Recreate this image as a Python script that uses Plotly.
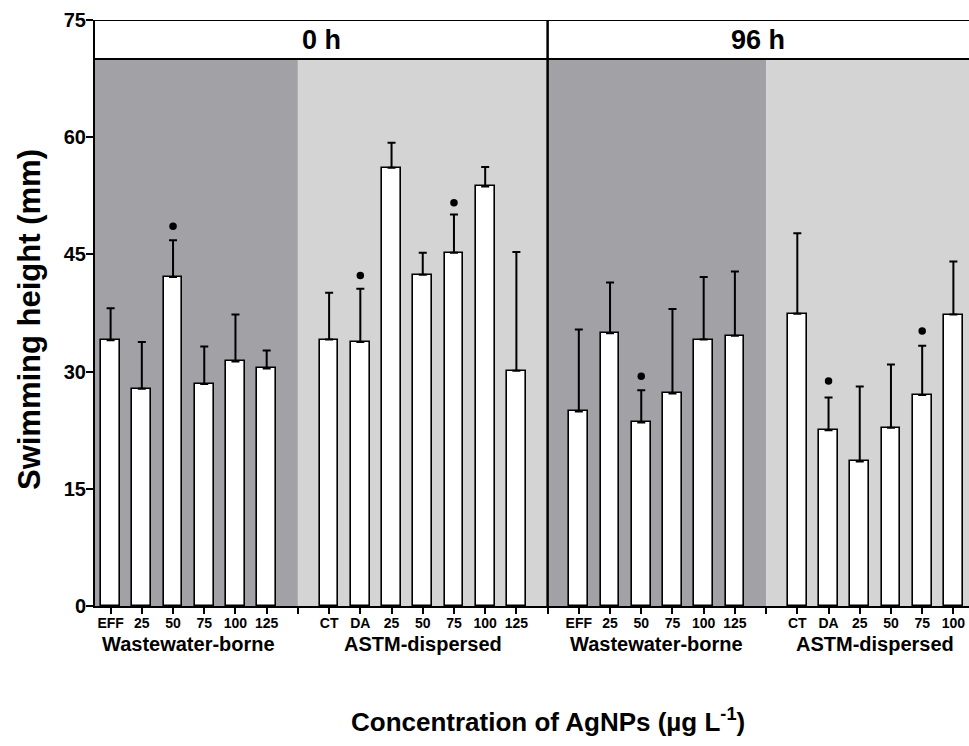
import plotly.graph_objects as go

# ---------------- data ----------------
time_points = ["0 h", "96 h"]
treatments = ["Wastewater-borne", "ASTM-dispersed"]

ww_labels = ["EFF", "25", "50", "75", "100", "125"]
astm_labels_0h = ["CT", "DA", "25", "50", "75", "100", "125"]
astm_labels_96h = ["CT", "DA", "25", "50", "75", "100"]   # 125 is cut off in the source image

ww_0h_mean = [34.0, 27.8, 42.1, 28.4, 31.3, 30.4]
ww_0h_err = [4.1, 6.0, 4.7, 4.8, 6.0, 2.3]
ww_0h_dot = [None, None, 48.6, None, None, None]

astm_0h_mean = [34.1, 33.8, 56.1, 42.4, 45.2, 53.7, 30.1]
astm_0h_err = [6.0, 6.8, 3.2, 2.8, 4.9, 2.5, 15.2]
astm_0h_dot = [None, 42.3, None, None, 51.6, None, None]

ww_96h_mean = [24.9, 34.9, 23.5, 27.2, 34.1, 34.6]
ww_96h_err = [10.5, 6.5, 4.1, 10.8, 8.0, 8.2]
ww_96h_dot = [None, None, 29.4, None, None, None]

astm_96h_mean = [37.4, 22.5, 18.5, 22.8, 27.0, 37.3]
astm_96h_err = [10.3, 4.2, 9.6, 8.1, 6.3, 6.8]
astm_96h_dot = [None, 28.8, None, None, 35.2, None]

y_ticks = [0, 15, 30, 45, 60, 75]

groups = [
    (time_points[0], treatments[0], ww_labels, ww_0h_mean, ww_0h_err, ww_0h_dot),
    (time_points[0], treatments[1], astm_labels_0h, astm_0h_mean, astm_0h_err, astm_0h_dot),
    (time_points[1], treatments[0], ww_labels, ww_96h_mean, ww_96h_err, ww_96h_dot),
    (time_points[1], treatments[1], astm_labels_96h, astm_96h_mean, astm_96h_err, astm_96h_dot),
]

# ---------------- style ----------------
FONT = "Liberation Sans, Arial, sans-serif"
DARK = "#a2a1a6"
LIGHT = "#d4d4d4"
X_START = -0.5
X_END = 27.5
Y_SHADE_TOP = 70

fig = go.Figure()

xs, ys, errs, tickvals, ticktext = [], [], [], [], []
dot_x, dot_y = [], []
group_info = []
pos = 0
for tp, trt, labels, means, es, dots in groups:
    gx = list(range(pos, pos + len(labels)))
    xs += gx
    ys += means
    errs += es
    tickvals += gx
    ticktext += labels
    for xx, d in zip(gx, dots):
        if d is not None:
            dot_x.append(xx)
            dot_y.append(d)
    gap = pos + len(labels)
    group_info.append((tp, trt, gx, gap))
    pos = gap + 1

boundaries = [g[3] for g in group_info[:-1]]

fig.add_trace(go.Bar(
    x=xs, y=ys, width=0.6,
    marker=dict(color="white", line=dict(color="black", width=1.6)),
    error_y=dict(type="data", symmetric=False, array=errs,
                 arrayminus=[0] * len(errs), color="black",
                 thickness=2, width=4),
    showlegend=False, hoverinfo="skip",
))

fig.add_trace(go.Scatter(
    x=dot_x, y=dot_y, mode="markers",
    marker=dict(color="black", size=7.5),
    showlegend=False, hoverinfo="skip",
))

shapes = []
annotations = []
left = X_START
for i, (tp, trt, gx, gap) in enumerate(group_info):
    right = gap if i < len(group_info) - 1 else X_END + 1
    shapes.append(dict(type="rect", xref="x", yref="y", x0=left, x1=right,
                       y0=0, y1=Y_SHADE_TOP, fillcolor=DARK if trt == treatments[0] else LIGHT,
                       line=dict(width=0), layer="below"))
    annotations.append(dict(x=(gx[0] + gx[-1]) / 2, y=-0.064, xref="x", yref="paper",
                            text=trt, showarrow=False, yanchor="middle",
                            font=dict(family=FONT, size=20, color="black", weight="bold")))
    left = right

# header strip
shapes.append(dict(type="rect", xref="x", yref="y", x0=X_START, x1=X_END + 1,
                   y0=Y_SHADE_TOP, y1=75, fillcolor="white",
                   line=dict(width=0), layer="below"))
shapes.append(dict(type="line", xref="x", yref="y", x0=X_START, x1=X_END + 1,
                   y0=Y_SHADE_TOP, y1=Y_SHADE_TOP, line=dict(color="black", width=2)))
shapes.append(dict(type="line", xref="x", yref="y", x0=X_START, x1=X_END + 1,
                   y0=75, y1=75, line=dict(color="black", width=2)))
# panel divider between time points
divider = group_info[1][3]
shapes.append(dict(type="line", xref="x", yref="y", x0=divider, x1=divider,
                   y0=0, y1=75, line=dict(color="black", width=2.5)))

# header labels
annotations.append(dict(x=(X_START + divider) / 2, y=(Y_SHADE_TOP + 75) / 2, xref="x", yref="y",
                        text=time_points[0], showarrow=False, yanchor="middle",
                        font=dict(family=FONT, size=27, color="black", weight="bold")))
annotations.append(dict(x=(divider + X_END) / 2, y=(Y_SHADE_TOP + 75) / 2, xref="x", yref="y",
                        text=time_points[1], showarrow=False, yanchor="middle",
                        font=dict(family=FONT, size=27, color="black", weight="bold")))
# x title
annotations.append(dict(x=0.518, y=-0.195, xref="paper", yref="paper",
                        text="Concentration of AgNPs (µg L<sup>-1</sup>)", showarrow=False,
                        yanchor="middle",
                        font=dict(family=FONT, size=26, color="black", weight="bold")))
# y title
annotations.append(dict(x=-0.0755, y=0.488, xref="paper", yref="paper",
                        text="Swimming height (mm)", showarrow=False, textangle=-90,
                        xanchor="center", yanchor="middle",
                        font=dict(family=FONT, size=31, color="black", weight="bold")))

fig.update_layout(
    width=969, height=746,
    margin=dict(l=95, r=0, t=20, b=140),
    plot_bgcolor="white", paper_bgcolor="white",
    shapes=shapes, annotations=annotations,
    bargap=0,
    xaxis=dict(range=[X_START, X_END], tickvals=tickvals, ticktext=ticktext,
               automargin=False,
               showgrid=False, zeroline=False, showline=True, linecolor="black",
               linewidth=2, ticks="outside", ticklen=6, tickwidth=1.5, tickcolor="black",
               ticklabelstandoff=-3,
               minor=dict(tickvals=boundaries, ticks="outside", ticklen=6,
                          tickwidth=1.5, tickcolor="black", showgrid=False),
               tickfont=dict(family=FONT, size=14, color="black", weight="bold")),
    yaxis=dict(range=[0, 75], tickvals=y_ticks, showgrid=False, zeroline=False,
               automargin=False,
               showline=True, linecolor="black", linewidth=2, ticks="outside",
               ticklen=7, tickwidth=1.5, tickcolor="black", ticklabelstandoff=-4,
               tickfont=dict(family=FONT, size=20, color="black", weight="bold")),
)

fig.write_html("out.html", config={"displayModeBar": False},
               post_script="document.body.style.margin='0';document.body.style.overflow='hidden';")
